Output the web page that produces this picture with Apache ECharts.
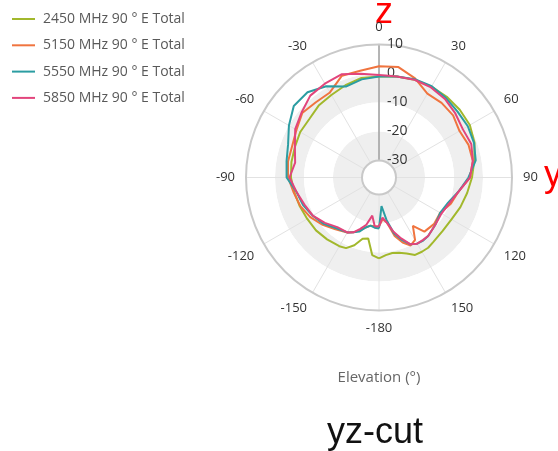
<!DOCTYPE html>
<html>
<head>
<meta charset="utf-8">
<script src="https://cdn.jsdelivr.net/npm/echarts@6/dist/echarts.min.js"></script>
<style>
  html, body { margin: 0; padding: 0; background: #fff; }
  #chart { width: 558px; height: 451px; }
</style>
</head>
<body>
<div id="chart"></div>
<script>
// elevation angles (deg), 0 = +z, clockwise
const angles = [-180, -175, -170, -165, -160, -155, -150, -140, -130, -120, -110, -100, -90, -80, -70, -60, -50, -40, -30, -20, -10,
  0, 10, 20, 30, 40, 50, 60, 70, 80, 90, 100, 110, 120, 130, 140, 145, 150, 155, 160, 165, 170, 175, 180];

// E total (dB) per frequency
const e2450 = [-8, -9, -14.5, -14, -11, -9, -8.5, -8, -7.5, -7.3, -6.8, -6.2, -5.5, -5.2, -5, -4.5, -4.5, -3.5, -3, -2, -1,
  -1, -0.5, 0, 0.3, 0.5, 0.5, 0.3, -0.8, -2.5, -3.8, -5, -6, -7, -7.2, -6.8, -6.3, -6.3, -6.4, -8, -9, -9.4, -9, -8];
const e5150 = [-19, -19, -19, -18, -16.5, -15, -14, -12.5, -10.5, -8.5, -7, -6, -4.5, -4, -4, -3, -1.3, -2, -2, 1.5, 1.5,
  2.5, 2.8, 0.5, -2.5, -2.3, -2.5, -3.8, -3, -3, -4.5, -8, -9.5, -11.5, -11, -11.5, -15.5, -11, -10, -12, -15, -20, -21.5, -19];
const e5550 = [-18.3, -18.5, -19, -18, -16, -15, -14, -13, -11, -9.5, -8, -7, -4, -3.5, -2.5, 0, 2.5, 2.5, 0.5, -2.5, -1.5,
  -1, -0.5, 0.2, 0.5, 0, -0.5, -0.5, -1, -2, -5, -8, -10.5, -11.5, -10.5, -9.5, -9.3, -9.5, -10.5, -13, -16, -21, -26, -18.3];
const e5850 = [-19, -19, -22.5, -19, -17, -15, -14, -13.5, -11.5, -9.5, -8.5, -7, -5, -6.5, -5, -2.5, -1, 1, 1.5, 2, 0.5,
  -0.5, -0.5, 0, 0, -0.5, -1.5, -2.5, -2, -3, -4.5, -8, -10, -11, -10.5, -9.5, -9.5, -9.5, -10.5, -13.5, -16.5, -20, -22, -19];

const seriesNames = ['2450 MHz 90 ° E Total', '5150 MHz 90 ° E Total', '5550 MHz 90 ° E Total', '5850 MHz 90 ° E Total'];
const seriesValues = [e2450, e5150, e5550, e5850];
const colors = ['#a2b82c', '#f0743f', '#2b9da2', '#e2457c'];

const radiusTicks = { min: -30, max: 10, step: 10 };

const chart = echarts.init(document.getElementById('chart'));

// angle axis runs 0..360 so that the radius axis sits at the top
function toPolar(vals) {
  return angles.map((a, i) => [vals[i], a < 0 ? a + 360 : a]);
}

const font = "'Open Sans', 'Noto Sans', sans-serif";
const bigFont = "'Liberation Sans', Arial, sans-serif";

const option = {
  backgroundColor: '#fff',
  animation: false,
  color: colors,
  legend: {
    orient: 'vertical',
    left: 7,
    top: 7,
    icon: 'path://M0,0 L23,0 L23,2 L0,2 Z',
    itemWidth: 23,
    itemHeight: 14,
    itemGap: 12.3,
    textStyle: { color: '#595959', fontSize: 14, fontFamily: font, padding: [0, 0, 0, 3] },
    data: seriesNames
  },
  polar: {
    center: [379, 177.5],
    radius: [17, 133]
  },
  angleAxis: {
    type: 'value',
    min: 0,
    max: 360,
    interval: 30,
    startAngle: 90,
    clockwise: true,
    axisLine: { lineStyle: { color: '#c9c9c9', width: 2 } },
    axisTick: { show: false },
    axisLabel: {
      color: '#333',
      fontSize: 13,
      fontFamily: font,
      margin: 11,
      formatter: function (v) {
        if (v === 360) return '';
        return v >= 180 ? String(v - 360) : String(v);
      }
    },
    splitLine: { lineStyle: { color: '#e2e2e2', width: 1 } }
  },
  radiusAxis: {
    type: 'value',
    min: radiusTicks.min,
    max: radiusTicks.max,
    interval: radiusTicks.step,
    axisLine: { lineStyle: { color: '#a0a0a0', width: 1.5 } },
    axisTick: { show: false },
    axisLabel: { color: '#333', fontSize: 14, fontFamily: font, margin: -8, align: 'left' },
    splitLine: { show: false },
    splitArea: { show: true, areaStyle: { color: ['#efefef', '#ffffff'] } }
  },
  series: seriesNames.map((name, i) => ({
    name: name,
    type: 'line',
    coordinateSystem: 'polar',
    symbol: 'none',
    lineStyle: { width: 2 },
    data: toPolar(seriesValues[i])
  })),
  graphic: [
    { type: 'text', x: 384, y: 13, style: { text: 'z', fill: '#ff0000', fontSize: 36, fontFamily: bigFont, align: 'center', verticalAlign: 'middle' } },
    { type: 'text', x: 544, y: 176, style: { text: 'y', fill: '#ff0000', fontSize: 36, fontFamily: bigFont, align: 'left', verticalAlign: 'middle' } },
    { type: 'text', x: 379, y: 378, style: { text: 'Elevation (°)', fill: '#666', fontSize: 15, fontFamily: font, align: 'center', verticalAlign: 'middle' } },
    { type: 'text', x: 375, y: 433, style: { text: 'yz-cut', fill: '#111', fontSize: 36, fontFamily: bigFont, align: 'center', verticalAlign: 'middle' } }
  ]
};

chart.setOption(option);
</script>
</body>
</html>
